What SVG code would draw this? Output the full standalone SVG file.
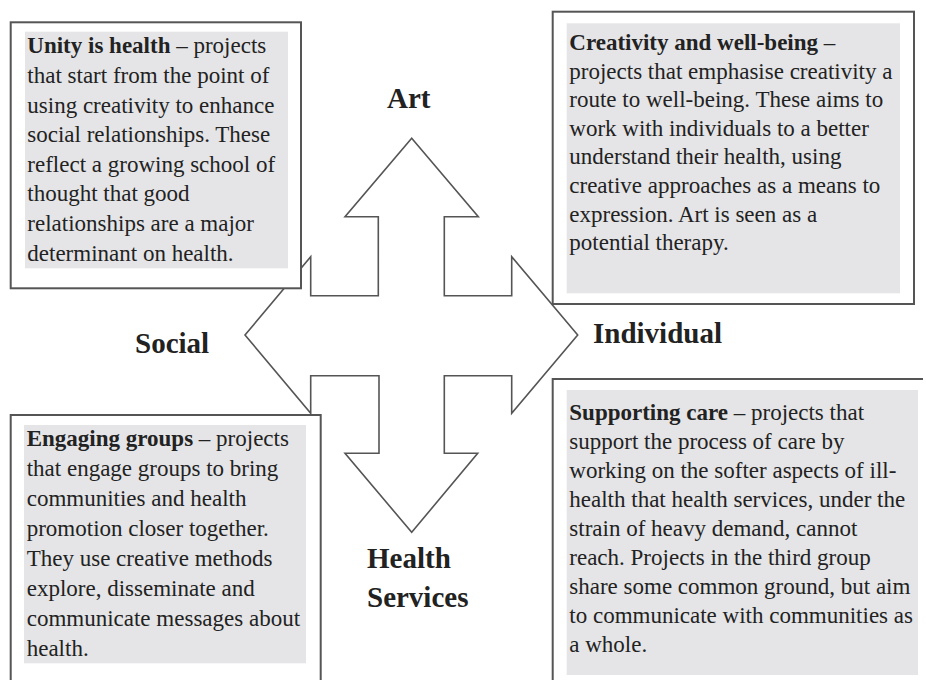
<svg xmlns="http://www.w3.org/2000/svg" width="926" height="680" viewBox="0 0 926 680">
<style>
.box{fill:#fff;stroke:#555;stroke-width:2}
.edge{fill:none;stroke:#555;stroke-width:2}
.shade{fill:#e5e5e7}
.cross{fill:#fff;stroke:#555;stroke-width:1.6;stroke-linejoin:miter}
.t{font-family:"Liberation Serif","Times New Roman",serif;font-size:23px;fill:#222}
.b{font-weight:bold}
.lbl{font-family:"Liberation Serif","Times New Roman",serif;font-size:29px;font-weight:bold;fill:#222}
</style>
<rect width="926" height="680" fill="#fff"/>
<g id="connectors">
<polygon class="cross" points="411.7,138.3 478.3,216.7 444.3,216.7 444.3,295.7 511.7,295.7 511.7,256.7 577.7,335 511.7,413.3 511.7,375.7 444.3,375.7 444.3,453.3 477.7,453.3 411.7,532.3 345,453.3 379,453.3 379,375.7 310.7,375.7 310.7,413.3 245,335 310.7,256.7 310.7,295.7 378.3,295.7 378.3,216.7 345,216.7"/>
</g>
<g id="label-art"><text class="lbl" x="387" y="108">Art</text></g>
<g id="label-social"><text class="lbl" x="135" y="353">Social</text></g>
<g id="label-individual"><text class="lbl" x="593" y="343">Individual</text></g>
<g id="label-health-services">
<text class="lbl" x="367" y="568">Health</text>
<text class="lbl" x="367" y="607">Services</text>
</g>
<g id="box-unity">
<rect class="box" x="10.7" y="22.3" width="290.3" height="266"/>
<rect class="shade" x="25" y="31.7" width="263" height="236.6"/>
<text class="t" x="27.3">
<tspan x="27.3" y="53.3"><tspan class="b">Unity is health</tspan> – projects</tspan>
<tspan x="27.3" y="83">that start from the point of</tspan>
<tspan x="27.3" y="112.6">using creativity to enhance</tspan>
<tspan x="27.3" y="142.2">social relationships. These</tspan>
<tspan x="27.3" y="171.8">reflect a growing school of</tspan>
<tspan x="27.3" y="201.4">thought that good</tspan>
<tspan x="27.3" y="231">relationships are a major</tspan>
<tspan x="27.3" y="260.6">determinant on health.</tspan>
</text>
</g>
<g id="box-creativity">
<rect class="box" x="552.7" y="11.7" width="361.3" height="292.3"/>
<rect class="shade" x="566.7" y="23.3" width="333.3" height="270"/>
<text class="t">
<tspan x="569.3" y="50"><tspan class="b">Creativity and well-being</tspan> –</tspan>
<tspan x="569.3" y="78.6">projects that emphasise creativity a</tspan>
<tspan x="569.3" y="107.2">route to well-being. These aims to</tspan>
<tspan x="569.3" y="135.8">work with individuals to a better</tspan>
<tspan x="569.3" y="164.4">understand their health, using</tspan>
<tspan x="569.3" y="193">creative approaches as a means to</tspan>
<tspan x="569.3" y="221.6">expression. Art is seen as a</tspan>
<tspan x="569.3" y="250.2">potential therapy.</tspan>
</text>
</g>
<g id="box-engaging">
<rect x="10.7" y="415" width="310" height="270" fill="#fff"/>
<path class="edge" d="M10.7,681 V415 H320.7 V681"/>
<rect class="shade" x="24" y="425" width="282" height="238.3"/>
<text class="t">
<tspan x="26.7" y="446"><tspan class="b">Engaging groups</tspan> – projects</tspan>
<tspan x="26.7" y="476">that engage groups to bring</tspan>
<tspan x="26.7" y="506">communities and health</tspan>
<tspan x="26.7" y="536">promotion closer together.</tspan>
<tspan x="26.7" y="566">They use creative methods</tspan>
<tspan x="26.7" y="596">explore, disseminate and</tspan>
<tspan x="26.7" y="626">communicate messages about</tspan>
<tspan x="26.7" y="656">health.</tspan>
</text>
</g>
<g id="box-supporting">
<rect x="552.7" y="379" width="372" height="302" fill="#fff"/>
<path class="edge" d="M552.7,681 V379 H923"/>
<rect class="shade" x="566.7" y="390" width="351.3" height="285"/>
<text class="t">
<tspan x="569.3" y="420"><tspan class="b">Supporting care</tspan> – projects that</tspan>
<tspan x="569.3" y="449">support the process of care by</tspan>
<tspan x="569.3" y="478">working on the softer aspects of ill-</tspan>
<tspan x="569.3" y="507">health that health services, under the</tspan>
<tspan x="569.3" y="536">strain of heavy demand, cannot</tspan>
<tspan x="569.3" y="565">reach. Projects in the third group</tspan>
<tspan x="569.3" y="594">share some common ground, but aim</tspan>
<tspan x="569.3" y="623">to communicate with communities as</tspan>
<tspan x="569.3" y="652">a whole.</tspan>
</text>
</g>
</svg>
